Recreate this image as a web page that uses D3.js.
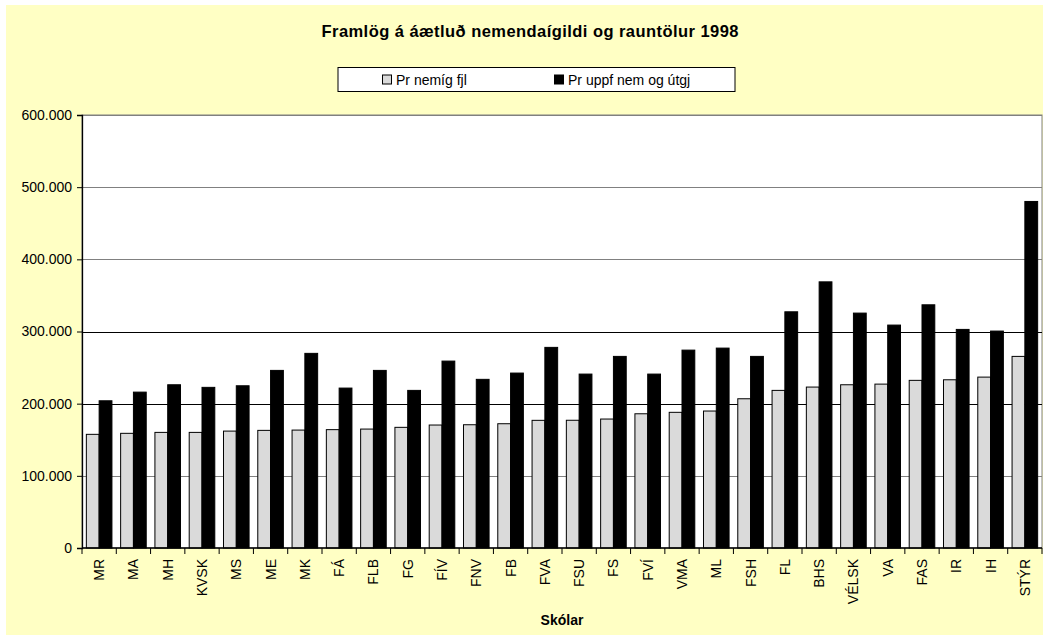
<!DOCTYPE html>
<html>
<head>
<meta charset="utf-8">
<script src="https://cdn.jsdelivr.net/npm/d3@7"></script>
<style>
	body { margin: 0; background: #fff; }
	svg text { font-family: "Liberation Sans", Arial, sans-serif; fill: #000; }
</style>
</head>
<body>
<svg id="chart" width="1043" height="636"></svg>
<script>
(function (d3) {
	"use strict";

	/***** Data *****/
	var schools = ["MR", "MA", "MH", "KVSK", "MS", "ME", "MK", "FÁ", "FLB", "FG", "FÍV", "FNV", "FB", "FVA",
		"FSU", "FS", "FVÍ", "VMA", "ML", "FSH", "FL", "BHS", "VÉLSK", "VA", "FAS", "IR", "IH", "STÝR"];

	var seriesNames = ["Pr nemíg fjl", "Pr uppf nem og útgj"];

	// Pr nemíg fjl
	var perStudent = [157500, 158900, 160200, 160200, 162000, 163000, 163400, 164000, 164800, 167200, 170400, 170800, 172200, 176900,
		177000, 178700, 186000, 188000, 189800, 206800, 218400, 223000, 226200, 227100, 232300, 233100, 236800, 265500];

	// Pr uppf nem og útgj
	var perCompleted = [204000, 216000, 226200, 222600, 224800, 246100, 269700, 221600, 246100, 218400, 259000, 233700, 242400, 278000,
		241000, 265500, 241000, 274200, 277000, 265500, 327300, 368800, 325500, 308900, 337000, 302900, 300600, 480200];

	var yTicks = [0, 100000, 200000, 300000, 400000, 500000, 600000];
	// grid lines drawn dark in the picture
	var darkGrid = [200000, 300000];

	var colors = ["#dadada", "#000000"];

	/***** Layout *****/
	const plot = { left: 82, right: 1042, top: 115, bottom: 548 };

	var svg = d3.select("#chart");

	// chart background
	svg.append("rect")
		.attr("x", 6).attr("y", 5)
		.attr("width", 1037).attr("height", 630)
		.attr("fill", "#ffffc4");

	// plot area
	svg.append("rect")
		.attr("x", plot.left).attr("y", plot.top)
		.attr("width", plot.right - plot.left).attr("height", plot.bottom - plot.top)
		.attr("fill", "#fff")
		.attr("stroke", "#808080");

	/***** Scales *****/
	var x = d3.scaleBand().domain(schools).range([plot.left, plot.right]);
	var xSub = d3.scaleBand().domain(seriesNames).range([0, x.bandwidth()]).paddingOuter(0.34);
	var y = d3.scaleLinear().domain([0, 600000]).range([plot.bottom, plot.top]);

	var fmt = function (v) {
		return v === 0 ? "0" : d3.format(",")(v).replace(/,/g, ".");
	};

	// grid lines
	svg.append("g")
		.selectAll("line")
		.data(yTicks.filter(function (t) { return t > 0; }))
		.join("line")
		.attr("x1", plot.left).attr("x2", plot.right)
		.attr("y1", function (d) { return Math.round(y(d)) + 0.5; })
		.attr("y2", function (d) { return Math.round(y(d)) + 0.5; })
		.attr("stroke", function (d) { return darkGrid.indexOf(d) >= 0 ? "#000" : "#808080"; })
		.attr("stroke-width", 1.2);

	/***** Bars *****/
	var rows = schools.map(function (s, i) {
		return { school: s, values: [perStudent[i], perCompleted[i]] };
	});

	var groups = svg.append("g")
		.selectAll("g")
		.data(rows)
		.join("g")
		.attr("transform", function (d) { return "translate(" + x(d.school) + ",0)"; });

	groups.selectAll("rect")
		.data(function (d) {
			return d.values.map(function (v, k) { return { name: seriesNames[k], value: v, k: k }; });
		})
		.join("rect")
		.attr("x", function (d) { return xSub(d.name); })
		.attr("width", xSub.bandwidth())
		.attr("y", function (d) { return y(d.value); })
		.attr("height", function (d) { return y(0) - y(d.value); })
		.attr("fill", function (d) { return colors[d.k]; })
		.attr("stroke", "#000")
		.attr("stroke-width", 1);

	/***** Axes *****/
	var yAxis = svg.append("g")
		.attr("transform", "translate(" + plot.left + ",0)")
		.call(d3.axisLeft(y).tickValues(yTicks).tickFormat(fmt).tickSize(5).tickPadding(5));
	yAxis.selectAll("text").attr("font-size", 14).attr("font-family", "Liberation Sans, Arial, sans-serif");
	yAxis.selectAll("line, path").attr("stroke", "#000");
	yAxis.select(".domain").attr("stroke-width", 1.3);

	var xAxis = svg.append("g")
		.attr("transform", "translate(0," + plot.bottom + ")");
	xAxis.append("line")
		.attr("x1", plot.left).attr("x2", plot.right)
		.attr("stroke", "#000").attr("stroke-width", 1.3);
	xAxis.selectAll("line.tick")
		.data(schools.concat([null]))
		.join("line")
		.attr("class", "tick")
		.attr("x1", function (d, i) { return plot.left + i * x.step(); })
		.attr("x2", function (d, i) { return plot.left + i * x.step(); })
		.attr("y1", 0).attr("y2", 6)
		.attr("stroke", "#000");

	svg.append("g")
		.selectAll("text")
		.data(schools)
		.join("text")
		.attr("transform", function (d) {
			return "translate(" + (x(d) + x.bandwidth() / 2) + "," + (plot.bottom + 11) + ") rotate(-90)";
		})
		.attr("text-anchor", "end")
		.attr("dy", "0.36em")
		.attr("font-size", 14)
		.text(function (d) { return d; });

	/***** Titles *****/
	svg.append("text")
		.attr("x", 530).attr("y", 37)
		.attr("text-anchor", "middle")
		.attr("font-size", 16.5).attr("font-weight", "bold")
		.attr("textLength", 417).attr("lengthAdjust", "spacing")
		.text("Framlög á áætluð nemendaígildi og rauntölur 1998");

	svg.append("text")
		.attr("x", (plot.left + plot.right) / 2).attr("y", 625)
		.attr("text-anchor", "middle")
		.attr("font-size", 14).attr("font-weight", "bold")
		.text("Skólar");

	/***** Legend *****/
	var legend = svg.append("g");
	legend.append("rect")
		.attr("x", 338).attr("y", 67.5)
		.attr("width", 397).attr("height", 24)
		.attr("fill", "#fff").attr("stroke", "#000");

	var legendX = [382, 554];
	var items = legend.selectAll("g.item")
		.data(seriesNames)
		.join("g")
		.attr("class", "item")
		.attr("transform", function (d, i) { return "translate(" + legendX[i] + ",79.5)"; });
	items.append("rect")
		.attr("x", 0.5).attr("y", -4.5)
		.attr("width", 9).attr("height", 9)
		.attr("fill", function (d, i) { return colors[i]; })
		.attr("stroke", "#000");
	items.append("text")
		.attr("x", 14).attr("dy", "0.36em")
		.attr("font-size", 14)
		.text(function (d) { return d; });

})(d3);
</script>
</body>
</html>
